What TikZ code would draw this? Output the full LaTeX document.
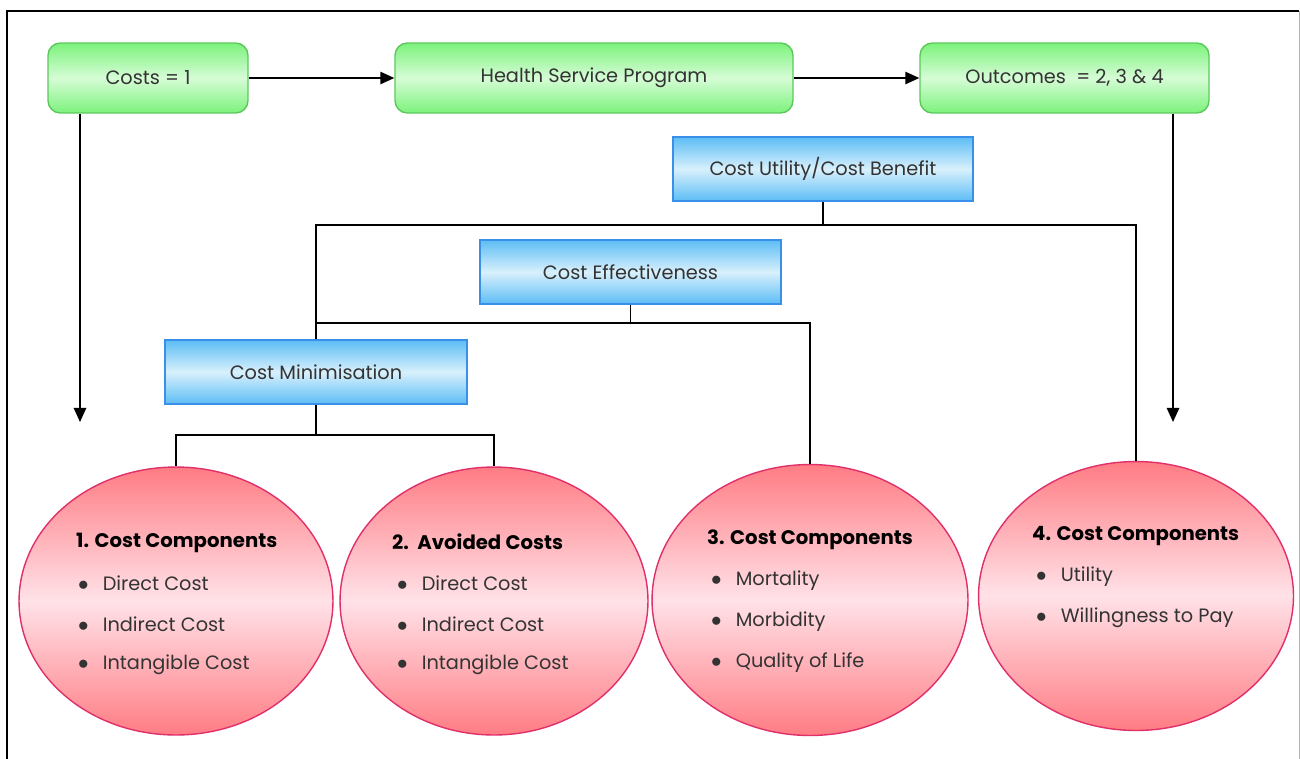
\documentclass[tikz,border=0pt]{standalone}
\usepackage{fontspec}
\setmainfont{Poppins}
\usetikzlibrary{arrows.meta,shapes.geometric}
\definecolor{gedge}{HTML}{7CF27C}
\definecolor{gmid}{HTML}{D6FCD6}
\definecolor{gline}{HTML}{5CC85C}
\definecolor{bedge}{HTML}{5CBDF5}
\definecolor{bmid}{HTML}{D8F0FC}
\definecolor{bline}{HTML}{3A8FE8}
\definecolor{pedge}{HTML}{FF7C84}
\definecolor{pmid}{HTML}{FFE2E8}
\definecolor{pline}{HTML}{E0306A}
\definecolor{txt}{HTML}{333333}
\newcommand{\bul}{{\large$\bullet$}\hspace{8pt}}
\tikzset{
  gbox/.style={draw=gline, line width=0.8pt, rounded corners=7pt, top color=gedge, bottom color=gedge, middle color=gmid, minimum height=1.4cm, inner sep=0pt, text=txt, font=\fontsize{11}{13}\selectfont},
  bbox/.style={draw=bline, line width=0.8pt, top color=bedge, bottom color=bedge, middle color=bmid, minimum height=1.28cm, inner sep=0pt, text=txt, font=\fontsize{11}{13}\selectfont},
  pell/.style={ellipse, draw=pline, line width=0.8pt, top color=pedge, bottom color=pedge, middle color=pmid, inner sep=0pt},
  ttl/.style={anchor=west, font=\fontsize{11.2}{13}\selectfont\bfseries, text=black},
  itm/.style={anchor=west, font=\fontsize{11}{13}\selectfont, text=txt},
  arr/.style={line width=1pt, -{Triangle[length=8pt,width=7pt]}},
  ln/.style={line width=1pt},
}
\begin{document}
\begin{tikzpicture}[x=0.02cm, y=-0.02cm]
\useasboundingbox (0,0) rectangle (1300,758);
\fill[white] (0,0) rectangle (1300,758);
\draw[line width=1.4pt] (7,760) -- (7,11) -- (1299,11);
\draw[line width=0.5pt, gray!60] (1299,11) -- (1299,760);

\node[gbox, minimum width=4cm] (costs) at (148,78) {\raisebox{-2pt}{Costs = 1}};
\node[gbox, minimum width=7.96cm] (hsp) at (594,78) {\raisebox{-2pt}{Health Service Program}};
\node[gbox, minimum width=5.78cm] (out) at (1064.5,78) {\raisebox{-2pt}{Outcomes \ = 2, 3 \& 4}};

\node[bbox, minimum width=6cm] (cu) at (823,169) {\raisebox{-2pt}{Cost Utility/Cost Benefit}};
\node[bbox, minimum width=6.02cm] (ce) at (630.5,272) {\raisebox{-2pt}{Cost Effectiveness}};
\node[bbox, minimum width=6.04cm] (cm) at (316,372) {\raisebox{-2pt}{Cost Minimisation}};

\node[pell, minimum width=6.28cm, minimum height=5.36cm] (e1) at (176,601) {};
\node[pell, minimum width=6.16cm, minimum height=5.36cm] (e2) at (494,601) {};
\node[pell, minimum width=6.32cm, minimum height=5.42cm] (e3) at (810,600) {};
\node[pell, minimum width=6.3cm, minimum height=5.38cm] (e4) at (1136,596) {};

\draw[arr] (costs) -- (hsp);
\draw[arr] (hsp) -- (out);
\coordinate (cdown) at (80,422);
\coordinate (odown) at (1173,422);
\draw[arr] (costs.south -| cdown) -- (cdown);
\draw[arr] (out.south -| odown) -- (odown);

\coordinate (j1) at (0,225);
\coordinate (j2) at (0,323);
\coordinate (j3) at (0,435);
\draw[ln] (cu.south) -- (cu.south |- j1);
\draw[ln] (cm.north) -- (cm.north |- j1) -- (e4.north |- j1) -- (e4.north);
\draw[ln] (ce.south) -- (ce.south |- j2);
\draw[ln] (cm.north |- j2) -- (e3.north |- j2) -- (e3.north);
\draw[ln] (cm.south) -- (cm.south |- j3);
\draw[ln] (e1.north) -- (e1.north |- j3) -- (e2.north |- j3) -- (e2.north);

% ellipse texts
\node[ttl] (t1) at (70,543) {1. Cost Components};
\node[itm] (a1) at (72,583) {\bul Direct Cost};
\node[itm] (b1) at (72,624) {\bul Indirect Cost};
\node[itm] (c1) at (72,665) {\bul Intangible Cost};

\node[ttl] (t2) at (386,542) {2.\ \ Avoided Costs};
\node[itm] (a2) at (391,583) {\bul Direct Cost};
\node[itm] (b2) at (391,624) {\bul Indirect Cost};
\node[itm] (c2) at (391,665) {\bul Intangible Cost};

\node[ttl] (t3) at (701,540) {3. Cost Components};
\node[itm] (a3) at (705,581) {\bul Mortality};
\node[itm] (b3) at (705,622) {\bul Morbidity};
\node[itm] (c3) at (705,663) {\bul Quality of Life};

\node[ttl] (t4) at (1026,536) {4. Cost Components};
\node[itm] (a4) at (1030,577) {\bul Utility};
\node[itm] (b4) at (1030,618) {\bul Willingness to Pay};
\end{tikzpicture}
\end{document}
